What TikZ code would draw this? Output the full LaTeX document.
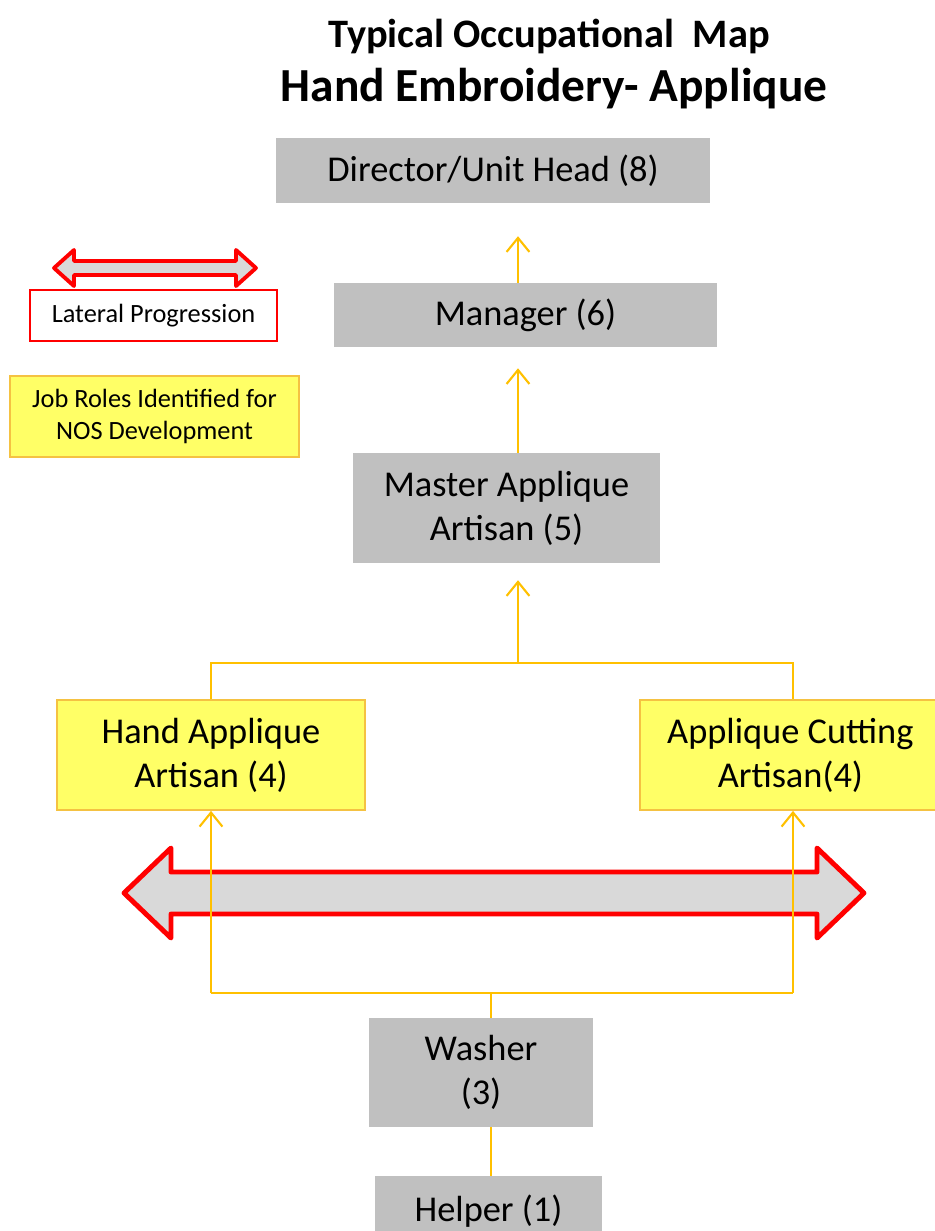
\documentclass[tikz,border=0pt]{standalone}
\usepackage{fontspec}
\setmainfont{Carlito}
\usepackage{xcolor}
\usetikzlibrary{arrows.meta,calc}
\definecolor{rolegray}{HTML}{C0C0C0}
\definecolor{nosyellow}{HTML}{FFFF66}
\definecolor{nosedge}{HTML}{F5C242}
\definecolor{linkgold}{HTML}{FFC000}
\definecolor{lateralred}{HTML}{FF0000}
\definecolor{lateralfill}{HTML}{D9D9D9}
\tikzset{
  role/.style={rectangle, fill=rolegray, draw=none, align=center, inner sep=0pt,
    font=\fontsize{20.7}{25}\selectfont},
  nos/.style={role, fill=nosyellow, draw=nosedge, line width=1pt},
  legendtxt/.style={rectangle, align=center, inner sep=0pt, font=\fontsize{15}{18.5}\selectfont},
  link/.style={draw=linkgold, line width=1.2pt},
  uplink/.style={link, -{Straight Barb[length=8pt,width=13pt]}},
  lateral/.style={draw=lateralred, fill=lateralfill, line join=round}
}
\newcommand{\DrawLateral}[7]{% xleft,xright,y,head length,head half,shaft half,line width
  \draw[lateral, line width=#7] (#1,#3) -- (#1+#4,#3-#5) -- (#1+#4,#3-#6) -- (#2-#4,#3-#6)
    -- (#2-#4,#3-#5) -- (#2,#3) -- (#2-#4,#3+#5) -- (#2-#4,#3+#6) -- (#1+#4,#3+#6)
    -- (#1+#4,#3+#5) -- cycle;
}

\begin{document}
\begin{tikzpicture}[x=0.02cm, y=-0.02cm]
  \useasboundingbox (0,0) rectangle (935,1231);
  \clip (0,0) rectangle (935,1231);

  % Title
  \node[font=\fontsize{23}{27}\selectfont\bfseries] (title) at (549,36) {Typical Occupational\ \ Map};
  \node[font=\fontsize{27}{32}\selectfont\bfseries] (subtitle) at (554,89) {Hand Embroidery- Applique};

  % Legend
  \DrawLateral{54}{256}{268}{20}{18}{7}{2.2pt}
  \node[legendtxt, draw=lateralred, fill=white, line width=1pt, minimum width=4.94cm, minimum height=1.02cm]
    (lateral) at (153.5,315.5) {Lateral Progression};
  \node[legendtxt, fill=nosyellow, draw=nosedge, line width=1pt, minimum width=5.78cm, minimum height=1.62cm]
    (nosnote) at (154.5,416.5) {Job Roles Identified for\\NOS Development};

  % Job roles
  \node[role, minimum width=8.68cm, minimum height=1.3cm] (Director) at (493,170.5) {Director/Unit Head (8)};
  \node[role, minimum width=7.66cm, minimum height=1.28cm] (Manager) at (525.5,315) {Manager (6)};
  \node[role, minimum width=6.14cm, minimum height=2.2cm] (Master) at (506.5,508) {Master Applique\\Artisan (5)};
  \node[nos, minimum width=6.16cm, minimum height=2.2cm] (Hand) at (211,755) {Hand Applique\\Artisan (4)};
  \node[nos, minimum width=6.12cm, minimum height=2.2cm] (Cut) at (793,755) {\hspace*{-3pt}Applique Cutting\\\hspace*{-3pt}Artisan(4)};
  \node[role, minimum width=4.48cm, minimum height=2.18cm] (Washer) at (481,1072.5) {Washer\\(3)};
  \node[role, minimum width=4.54cm, minimum height=1.4cm] (Helper) at (488.5,1211) {Helper (1)};

  % Lateral progression band
  \DrawLateral{124}{864}{893}{47}{45}{21}{2.8pt}

  % Connectors
  \coordinate (spine) at (518,0);
  \coordinate (split) at (518,663);
  \coordinate (join) at (491,993);
  \draw[uplink, shorten >=18.7pt] (spine |- Manager.north) -- (spine |- Director.south);
  \draw[uplink, shorten >=11.9pt] (spine |- Master.north) -- (spine |- Manager.south);
  \draw[uplink, shorten >=9.6pt] (split) -- (split |- Master.south);
  \draw[link] (Hand.north) -- (Hand.north |- split) -- (Cut.north |- split) -- (Cut.north);
  \draw[link] (Hand.south |- join) -- (Cut.south |- join);
  \draw[uplink] (Hand.south |- join) -- (Hand.south);
  \draw[uplink] (Cut.south |- join) -- (Cut.south);
  \draw[link] (join) -- (join |- Washer.north);
  \draw[link] (join |- Helper.north) -- (join |- Washer.south);
\end{tikzpicture}
\end{document}
